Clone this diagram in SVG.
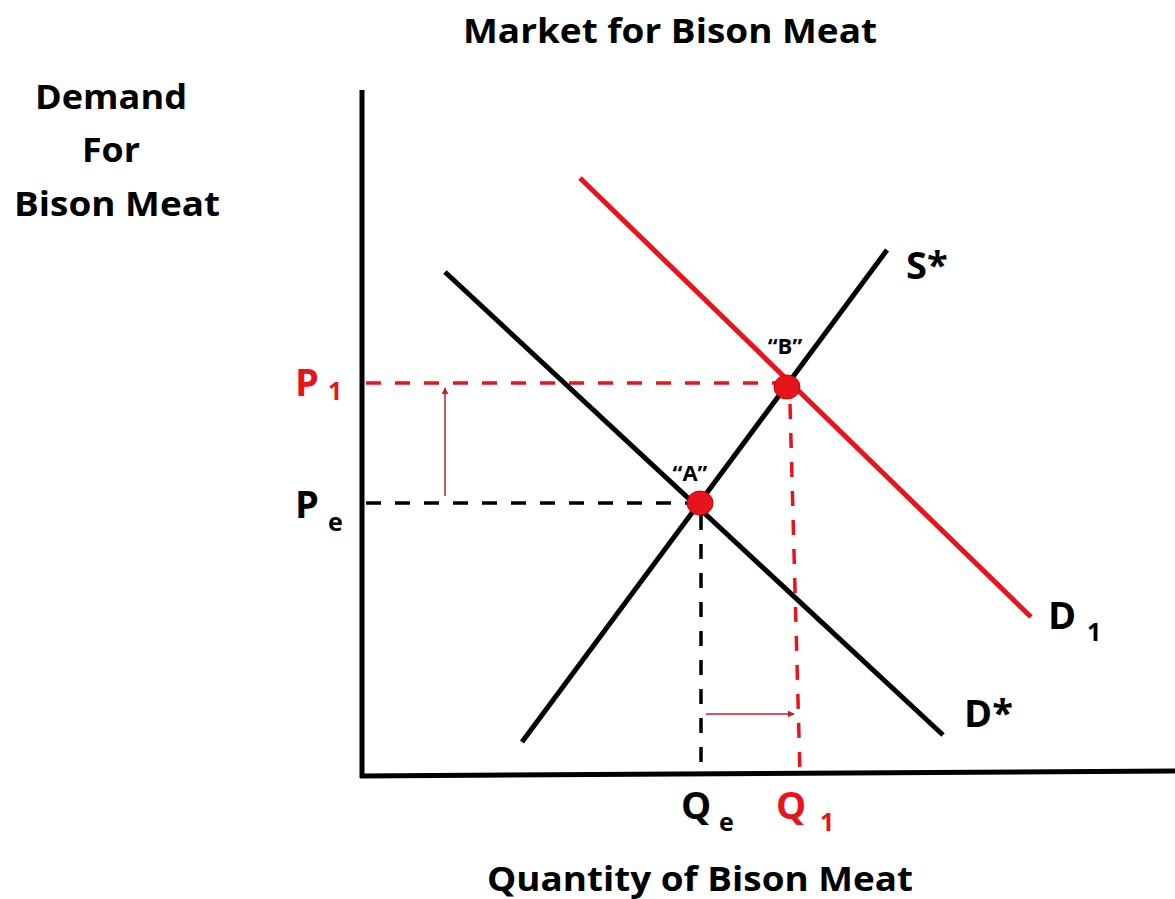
<svg xmlns="http://www.w3.org/2000/svg" width="1175" height="899" viewBox="0 0 1175 899">
<style>
text{font-family:"Open Sans","Liberation Sans",sans-serif;font-weight:bold;fill:#000}
.red{fill:#e8141b}
.big{font-size:34px}
.lbl{font-size:38px}
.sub{font-size:25px}
.q{font-size:22px}
.curve{fill:none;stroke-width:5;stroke-linecap:butt}
.dash{fill:none;stroke-width:3.5;stroke-dasharray:15 14}
.thin{fill:none;stroke:#c0202a;stroke-width:1.5}
</style>
<defs>
<marker id="ah" viewBox="0 0 10 10" refX="9" refY="5" markerWidth="7" markerHeight="7" orient="auto" markerUnits="userSpaceOnUse">
<path d="M0,0 L10,5 L0,10 z" fill="#c0202a"/>
</marker>
</defs>
<rect width="1175" height="899" fill="#fff"/>
<g id="titles">
<text class="big" x="670" y="43" text-anchor="middle" textLength="414" lengthAdjust="spacingAndGlyphs">Market for Bison Meat</text>
<text class="big" x="111" y="109" text-anchor="middle" textLength="152" lengthAdjust="spacingAndGlyphs">Demand</text>
<text class="big" x="111" y="162" text-anchor="middle" textLength="58" lengthAdjust="spacingAndGlyphs">For</text>
<text class="big" x="117" y="216" text-anchor="middle" textLength="206" lengthAdjust="spacingAndGlyphs">Bison Meat</text>
<text class="big" x="700" y="891" text-anchor="middle" textLength="426" lengthAdjust="spacingAndGlyphs">Quantity of Bison Meat</text>
</g>
<g id="axes">
<line x1="362" y1="90" x2="362" y2="778" stroke="#000" stroke-width="5"/>
<line x1="360" y1="776" x2="1175" y2="771" stroke="#000" stroke-width="5"/>
</g>
<g id="connectors">
<line class="dash" x1="366" y1="383" x2="780" y2="383" stroke="#e8141b"/>
<line class="dash" x1="366" y1="503" x2="692" y2="503" stroke="#000"/>
<line class="dash" x1="701" y1="515" x2="701" y2="776" stroke="#000"/>
<line class="dash" x1="790" y1="404" x2="800" y2="774" stroke="#e8141b"/>
<line class="thin" x1="445" y1="496" x2="445" y2="388" marker-end="url(#ah)"/>
<line class="thin" x1="706" y1="714" x2="794" y2="714" marker-end="url(#ah)"/>
</g>
<g id="curve-dstar">
<line class="curve" x1="445" y1="272" x2="943" y2="735" stroke="#000"/>
<text class="lbl" x="964" y="727">D*</text>
</g>
<g id="curve-sstar">
<line class="curve" x1="522" y1="742" x2="887" y2="250" stroke="#000"/>
<text class="lbl" x="906" y="279">S*</text>
</g>
<g id="curve-d1">
<line class="curve" x1="580" y1="178" x2="1031" y2="617" stroke="#e8141b"/>
<text class="lbl" x="1048" y="629">D</text>
<text class="sub" x="1087" y="641">1</text>
</g>
<g id="point-a">
<ellipse cx="700" cy="503" rx="13" ry="12" fill="#e8141b" stroke="#c00" stroke-width="1"/>
<text class="q" x="690" y="481" text-anchor="middle">“A”</text>
</g>
<g id="point-b">
<ellipse cx="787" cy="387" rx="13" ry="12" fill="#e8141b" stroke="#c00" stroke-width="1"/>
<text class="q" x="785" y="354" text-anchor="middle">“B”</text>
</g>
<g id="label-p1">
<text class="lbl red" x="295" y="396">P</text>
<text class="sub red" x="328" y="400">1</text>
</g>
<g id="label-pe">
<text class="lbl" x="295" y="518">P</text>
<text class="sub" x="328" y="531">e</text>
</g>
<g id="label-qe">
<text class="lbl" x="681" y="819">Q</text>
<text class="sub" x="719" y="831">e</text>
</g>
<g id="label-q1">
<text class="lbl red" x="776" y="819">Q</text>
<text class="sub red" x="820" y="831">1</text>
</g>
</svg>
